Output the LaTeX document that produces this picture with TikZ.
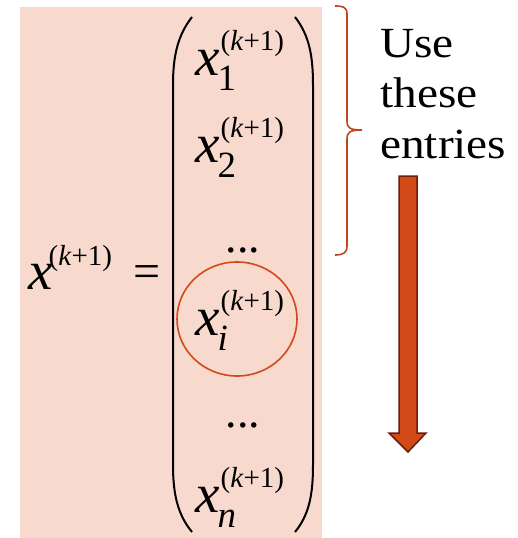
\documentclass[tikz,border=0pt]{standalone}
\usepackage{fontspec}
\usepackage{graphicx}
\setmainfont{Liberation Serif}
\usetikzlibrary{shapes.geometric}
\definecolor{pinkbg}{HTML}{F8D9CE}
\definecolor{bracered}{HTML}{C0461E}
\definecolor{arrowfill}{HTML}{D24A18}
\definecolor{arrowline}{HTML}{6A1E0A}
\newcommand\supk{{\fontsize{29}{29}\selectfont(\textit{k}+1)}}
\newcommand\xent[1]{{\fontsize{55}{55}\selectfont\itshape x}\kern-2pt\rlap{\raisebox{-15pt}{\fontsize{37}{37}\selectfont #1}}\kern3pt\raisebox{25pt}{\supk}}
\tikzset{
  ent/.style={inner sep=0pt, anchor=base west},
  dotsn/.style={inner sep=0pt, font=\fontsize{46}{46}\selectfont},
  paren/.style={line width=2pt, black},
}
\begin{document}
\begin{tikzpicture}[x=1pt,y=-1pt]
\useasboundingbox (0,0) rectangle (518,538);
\fill[pinkbg] (20,7) rectangle (322,538);
% left side
\node[ent] (lhs) at (28,289) {{\fontsize{55}{55}\selectfont\itshape x}\kern-4pt\raisebox{24pt}{\supk}};
\node[inner sep=0pt, font=\fontsize{48}{48}\selectfont] (eq) at (147,277) {=};
% parens
\draw[paren] (192,17) .. controls (178,35) and (173,55) .. (173,85) -- (173,465) .. controls (173,495) and (178,515) .. (192,532);
\draw[paren] (295,17) .. controls (309,35) and (313,55) .. (313,85) -- (313,465) .. controls (313,495) and (309,515) .. (295,532);
% entries
\node[ent] (x1) at (195,75) {\xent{1}};
\node[ent] (x2) at (195,162) {\xent{2}};
\node[dotsn] (d1) at (243,250) {...};
\node[ent] (xi) at (195,335) {\xent{\textit{i}}};
\node[dotsn] (d2) at (243,425) {...};
\node[ent] (xn) at (195,512) {\xent{\textit{n}}};
% circle around x_i
\node[draw=arrowfill, line width=1.6pt, ellipse, minimum width=120pt, minimum height=114pt, inner sep=0pt] (circ) at (237,319) {};
% brace
\draw[bracered, line width=1.6pt] (335,6) .. controls (343,6) and (347,7) .. (347,14) -- (347,121) .. controls (347,128) and (350,130) .. (362,130)
  .. controls (350,130) and (347,132) .. (347,139) -- (347,246) .. controls (347,253) and (343,255) .. (335,255);
% text
\node[inner sep=0pt, anchor=base west, font=\fontsize{43}{43}\selectfont] (t1) at (380,57) {\scalebox{1.1}[1]{Use}};
\node[inner sep=0pt, anchor=base west, font=\fontsize{43}{43}\selectfont] (t2) at (380,107) {\scalebox{1.1}[1]{these}};
\node[inner sep=0pt, anchor=base west, font=\fontsize{43}{43}\selectfont] (t3) at (380,158) {\scalebox{1.1}[1]{entries}};
% arrow
\draw[fill=arrowfill, draw=arrowline, line width=1.5pt, line join=miter] (399,176) -- (417,176) -- (417,433) -- (426,433) -- (408,452) -- (389,433) -- (399,433) -- cycle;
\end{tikzpicture}
\end{document}
